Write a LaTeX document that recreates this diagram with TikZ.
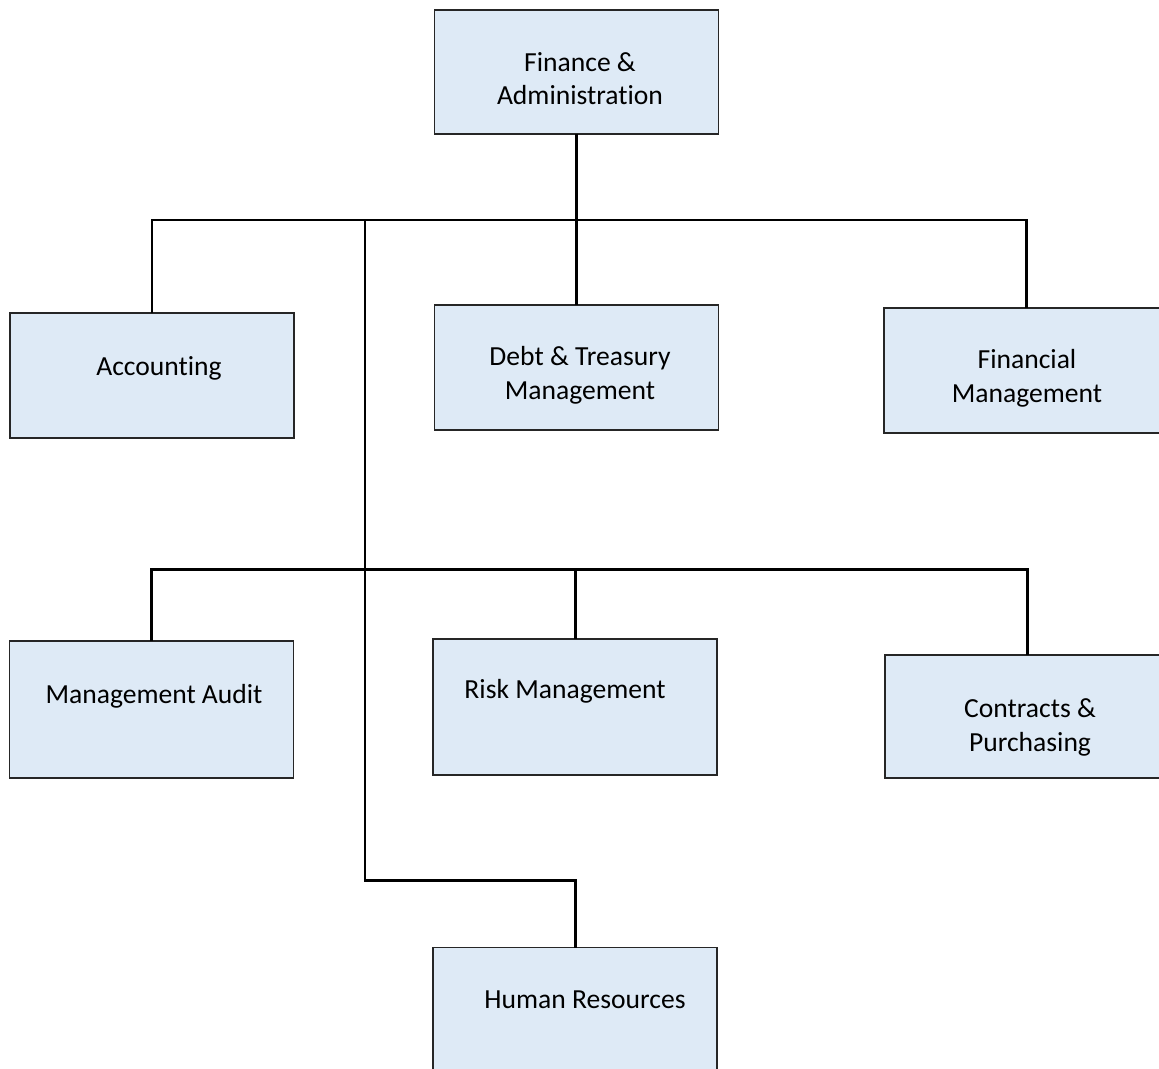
\documentclass[tikz,border=0pt]{standalone}
\usepackage{fontspec}
\setmainfont{Carlito}[Ligatures=NoCommon]
\usepackage{xcolor}
\usetikzlibrary{positioning,calc}
\definecolor{UnitFill}{HTML}{DEEAF6}
\definecolor{UnitEdge}{HTML}{262626}
\newcommand{\unitfont}{\fontsize{15.7}{19.3}\selectfont}

\begin{document}
\begin{tikzpicture}[x=0.02cm,y=-0.02cm,
    unit/.style={
      draw=UnitEdge,
      fill=UnitFill,
      line width=0.8pt,
      minimum width=5.68cm,
      minimum height=2.5cm,
      inner sep=0pt,
      outer sep=0pt
    },
    caption/.style={
      font=\unitfont,
      align=center,
      inner sep=0pt,
      anchor=base
    },
    wire/.style={
      draw=black,
      line width=1.7pt
    }
  ]
    \useasboundingbox (0,0) rectangle (1159,1068);
    \clip (0,0) rectangle (1159,1068);

    % boxes
    \node[unit, minimum height=2.48cm] (finadm) at (576.5,72) {};
    \node[unit] (acct) at (152,375.5) {};
    \node[unit] (debt) at (576.5,367.5) {};
    \node[unit] (finmgmt) at (1026,370.5) {};
    \node[unit, minimum height=2.74cm] (audit) at (151.5,709.5) {};
    \node[unit, minimum height=2.72cm] (risk) at (575,707) {};
    \node[unit, minimum height=2.46cm] (contracts) at (1027,716.5) {};
    \node[unit] (hr) at (575,1010) {};

    % texts (base = last line)
    \node[caption] (finadm-txt) at (580,105) {Finance \&\\Administration};
    \node[caption] (acct-txt) at (159,375) {Accounting};
    \node[caption] (debt-txt) at (580,399) {Debt \& Treasury\\Management};
    \node[caption] (finmgmt-txt) at (1027,402) {Financial\\Management};
    \node[caption] (audit-txt) at (154,703) {Management Audit};
    \node[caption] (risk-txt) at (565,698) {Risk Management};
    \node[caption] (contracts-txt) at (1030,751) {Contracts \&\\Purchasing};
    \node[caption] (hr-txt) at (585,1008) {Human Resources};

    % connectors
    \coordinate (topbus) at (576,220);
    \coordinate (subbus) at (365,569);
    \coordinate (hrbend) at (575,880);

    \draw[wire] (finadm.south) -- (debt.north);
    \draw[wire] (acct.north) -- (acct.north |- topbus) -- (finmgmt.north |- topbus) -- (finmgmt.north);
    \draw[wire] (topbus -| subbus) |- (hrbend) -- (hr.north);
    \draw[wire] (audit.north) -- (audit.north |- subbus) -- (contracts.north |- subbus) -- (contracts.north);
    \draw[wire] (risk.north |- subbus) -- (risk.north);
\end{tikzpicture}
\end{document}
